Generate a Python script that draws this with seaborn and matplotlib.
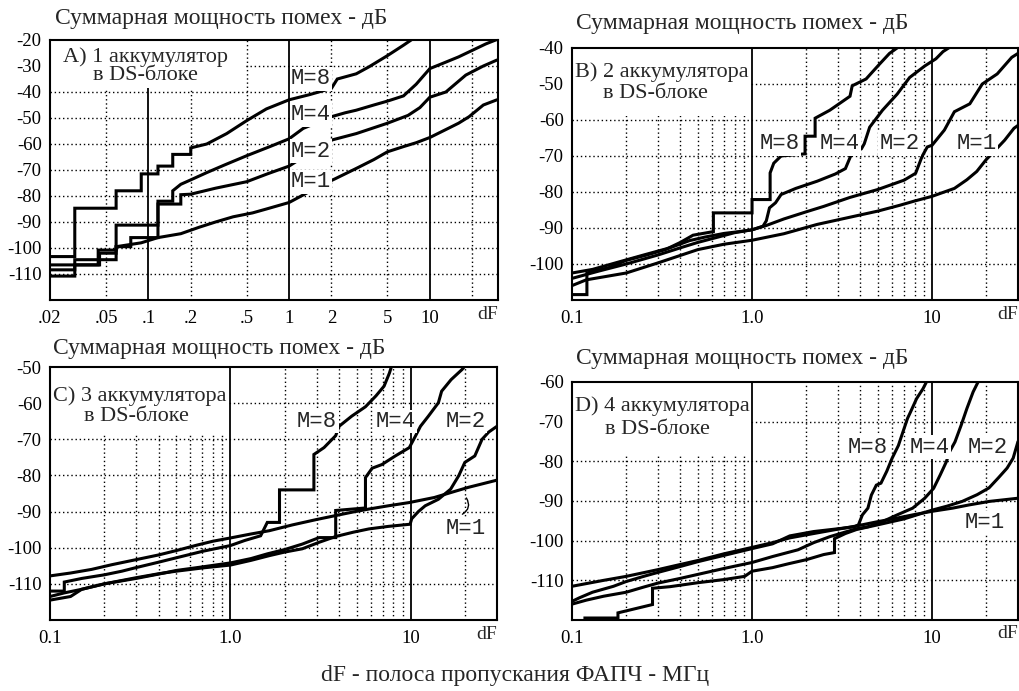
import matplotlib
matplotlib.use("Agg")
import matplotlib.pyplot as plt
import seaborn as sns
import pandas as pd
from matplotlib.patches import Rectangle
from matplotlib.ticker import NullLocator

sns.set_style("white")
plt.rcParams['font.family'] = ['Liberation Serif', 'DejaVu Serif']

# ---------------- data ----------------
# Panel A: 1 accumulator
A_M8_x = [0.02, 0.03, 0.03, 0.059, 0.059, 0.089, 0.089, 0.117, 0.117, 0.149, 0.149, 0.2, 0.2, 0.26, 0.36, 0.5, 0.69, 1.0, 1.4, 2.0, 2.2, 3.0, 3.7, 5.0, 6.5, 7.6]
A_M8_y = [-103.3, -103.3, -84.7, -84.7, -78, -78, -71.5, -71.5, -68.5, -68.5, -64, -64, -61.5, -60, -56, -51, -46.5, -43, -41, -38.6, -35, -33, -30.3, -26, -22, -19.5]
A_M4_x = [0.02, 0.044, 0.044, 0.059, 0.059, 0.117, 0.117, 0.149, 0.149, 0.17, 0.2, 0.26, 0.35, 0.5, 0.73, 1.0, 1.26, 2.0, 2.5, 3.0, 4.0, 5.0, 6.5, 8.0, 10, 13, 16, 20, 25, 31]
A_M4_y = [-106.5, -106.5, -100.8, -100.8, -91.2, -91.2, -82, -82, -78, -75.5, -73.8, -71, -68, -64.5, -61, -58, -54, -49.5, -48, -47, -45, -43.5, -41.5, -37, -31, -28.5, -26.5, -24, -21.5, -19.5]
A_M2_x = [0.02, 0.03, 0.03, 0.059, 0.059, 0.075, 0.075, 0.117, 0.117, 0.17, 0.17, 0.2, 0.3, 0.5, 0.7, 1.0, 1.26, 1.6, 2.0, 3.0, 5.0, 7.0, 8.5, 10, 13, 18, 24, 30]
A_M2_y = [-110.8, -110.8, -104.5, -104.5, -99.5, -99.5, -96, -96, -83.1, -83.1, -79.5, -79.3, -77, -74.5, -71.5, -68.5, -65, -63, -58.5, -56, -52, -49, -46, -42, -40, -33.5, -30, -27.7]
A_M1_x = [0.02, 0.03, 0.03, 0.045, 0.045, 0.059, 0.059, 0.089, 0.117, 0.17, 0.23, 0.3, 0.4, 0.55, 0.69, 1.0, 1.33, 1.6, 2.1, 3.0, 4.0, 5.0, 6.5, 8.0, 10, 13.5, 16, 19, 24, 30]
A_M1_y = [-108.4, -108.4, -106.5, -106.5, -102, -102, -99.5, -98, -96, -94.5, -92, -90, -88, -86.5, -85, -82.5, -78.9, -76.5, -73.5, -69.4, -66, -63, -61, -59.5, -57.5, -54, -52, -49.5, -45, -43]

# Panel B: 2 accumulators
B_M8_x = [0.1, 0.121, 0.121, 0.16, 0.2, 0.26, 0.33, 0.4, 0.47, 0.61, 0.61, 1.0, 1.0, 1.26, 1.26, 1.32, 1.45, 1.97, 1.97, 2.24, 2.24, 2.7, 3.5, 3.6, 4.3, 5.1, 5.8, 6.6]
B_M8_y = [-108.5, -108.5, -102.5, -101, -99, -97.5, -96, -94, -92, -91, -85.8, -85.8, -82.1, -82.1, -74.7, -72, -70, -69.4, -64.5, -64.5, -59.5, -57.3, -53.4, -50.5, -48.6, -44.5, -41.5, -39.5]
B_M4_x = [0.1, 0.13, 0.18, 0.25, 0.35, 0.45, 0.55, 0.7, 0.85, 1.0, 1.15, 1.2, 1.25, 1.35, 1.45, 1.75, 2.3, 2.9, 3.3, 3.6, 4.05, 4.2, 4.5, 5.3, 6.4, 7.5, 9.1, 10.5, 11.5, 12.8]
B_M4_y = [-102.5, -101.5, -99.5, -97.5, -95.5, -93.5, -92.5, -91.5, -91, -90.5, -89.5, -88, -84.4, -83, -80.7, -79, -77, -75, -73.5, -69, -68, -66.6, -62, -57.3, -52.8, -48.2, -45, -43, -41, -39.5]
B_M2_x = [0.1, 0.14, 0.2, 0.3, 0.4, 0.5, 0.65, 0.8, 1.0, 1.2, 1.5, 2.0, 2.5, 3.5, 5.0, 7.0, 8.1, 8.8, 9.4, 10, 11.7, 13.3, 16.2, 19, 23, 27.7, 30]
B_M2_y = [-104, -102, -100, -97.5, -95.5, -94, -92.5, -91.3, -90.5, -89.3, -87.5, -85.5, -84, -81.5, -79.3, -76.7, -74.8, -70.1, -67.5, -67, -62.8, -57.7, -55.5, -50, -47.2, -42.6, -41.5]
B_M1_x = [0.1, 0.12, 0.2, 0.3, 0.5, 0.7, 1.0, 1.5, 2.3, 3.5, 5.0, 6.6, 8.0, 10, 13.3, 15.6, 17.7, 19.9, 22.5, 25.3, 28.5, 30]
B_M1_y = [-106, -104.4, -102.5, -99.7, -96, -94.5, -93.4, -91.6, -89, -87, -85.3, -83.7, -82.5, -81.2, -79, -76.6, -74.3, -71.1, -68.3, -65.6, -62.3, -61.5]

# Panel C: 3 accumulators
C_M8_x = [0.1, 0.12, 0.12, 0.15, 0.2, 0.25, 0.3, 0.4, 0.5, 0.7, 1.0, 1.2, 1.47, 1.6, 1.87, 1.87, 2.9, 2.9, 3.3, 3.83, 4.0, 4.7, 5.6, 6.4, 7.1, 7.6, 7.9]
C_M8_y = [-112, -112, -109.5, -108.5, -107.5, -106.5, -105.5, -104, -102.8, -101, -99.4, -98, -96.7, -93, -93, -84, -84, -74.2, -72.3, -69, -66.4, -63.6, -61, -58, -55.3, -51.7, -49]
C_M4_x = [0.1, 0.13, 0.15, 0.2, 0.3, 0.4, 0.5, 0.7, 1.0, 1.3, 1.6, 2.0, 2.5, 3.1, 3.83, 3.83, 5.6, 5.6, 6.1, 6.9, 8.2, 9.8, 10.6, 11.3, 12.5, 14.2, 14.8, 16.7, 19.2, 20.5]
C_M4_y = [-114.5, -113.5, -111.5, -110, -108.5, -107.3, -106.3, -105.3, -104.2, -103, -101.7, -100.5, -99, -97.2, -97.2, -89.7, -89, -80.6, -78, -77, -74.6, -72.3, -69.1, -66.4, -63.6, -59.9, -56.7, -53.5, -50.7, -49]
C_M2_x = [0.1, 0.12, 0.15, 0.2, 0.3, 0.4, 0.5, 0.7, 1.0, 1.3, 1.64, 2.0, 2.5, 3.1, 3.83, 4.8, 5.85, 7.5, 9.9, 10.1, 11, 12, 14.2, 16.6, 18.4, 19.9, 22.6, 24.8, 27, 30]
C_M2_y = [-113.5, -112.5, -111.5, -110, -108.3, -107.2, -106.5, -105.6, -104.8, -103.5, -102.2, -101.2, -100.3, -98.5, -96.9, -95.7, -94.8, -94.1, -93.5, -92, -90, -88.4, -86.6, -83.8, -80.1, -76.4, -74.6, -70, -68, -66.4]
C_M1_x = [0.1, 0.13, 0.17, 0.22, 0.3, 0.4, 0.5, 0.65, 0.8, 1.0, 1.3, 1.64, 2.2, 3.0, 3.83, 4.8, 5.85, 7.5, 9.8, 13.5, 17, 20.8, 25, 30]
C_M1_y = [-107.8, -107, -106, -104.7, -103.3, -102, -100.8, -99.3, -98.2, -97.3, -96.2, -95.3, -93.7, -92.2, -91.1, -90.1, -89.3, -88.4, -87.5, -86.1, -84.6, -83.3, -82.3, -81.3]

# Panel D: 4 accumulators
D_M8_x = [0.1, 0.11, 0.13, 0.17, 0.2, 0.25, 0.3, 0.4, 0.5, 0.7, 1.0, 1.3, 1.62, 2.2, 3.0, 3.7, 3.9, 4.1, 4.4, 4.6, 4.9, 5.2, 5.6, 6.0, 6.5, 6.7, 7.3, 7.6, 8.2, 8.9, 9.3, 9.5]
D_M8_y = [-115.3, -114.4, -113, -111.5, -110.3, -109, -108, -106.5, -105.3, -103.7, -102, -100.8, -98.8, -97.7, -97, -96.5, -96, -93.5, -91.8, -88.5, -86, -85.5, -82.5, -79.2, -76, -74.2, -69.2, -67.5, -64.2, -61.7, -60, -59]
D_M4_x = [0.1, 0.12, 0.15, 0.2, 0.25, 0.3, 0.4, 0.5, 0.7, 1.0, 1.3, 1.8, 2.2, 2.7, 3.2, 3.8, 4.4, 5.3, 6.4, 7.8, 9.1, 10.2, 11.1, 12, 12.5, 13.4, 14.5, 15.6, 16.9, 18, 18.5]
D_M4_y = [-116, -115, -114, -113, -111.7, -110.7, -109.5, -108.5, -107, -105.5, -104, -102.3, -100.5, -99, -98, -97, -96.5, -95.2, -93.5, -91.8, -89.3, -86.8, -83.4, -80.1, -77.6, -75.1, -70.9, -66.7, -62.5, -60, -59]
D_M2_x = [0.1, 0.118, 0.118, 0.18, 0.18, 0.28, 0.28, 0.35, 0.5, 0.7, 0.91, 1.0, 1.3, 1.6, 2.0, 2.5, 2.87, 2.87, 3.3, 3.8, 5.0, 7.0, 10, 12.1, 14.7, 17.8, 20.7, 23.3, 26.1, 28.2, 30]
D_M2_y = [-121, -121, -119.5, -119.5, -118.2, -116.1, -112, -111.6, -110.6, -109.8, -109, -107.7, -106.8, -105.8, -104.8, -103.5, -103, -99.5, -98.2, -97.2, -96, -94.5, -92.3, -91.3, -90.1, -88.4, -86.7, -84.2, -81.7, -79.2, -75]
D_M1_x = [0.1, 0.15, 0.2, 0.3, 0.4, 0.5, 0.7, 1.0, 1.3, 1.62, 2.2, 3.0, 3.8, 5.0, 6.4, 8.0, 10, 13, 16, 20.8, 25, 30]
D_M1_y = [-111.5, -110, -109, -107.3, -106, -105, -103.3, -101.7, -100.5, -99.3, -98.2, -97.1, -96.3, -95.2, -94.3, -93.4, -92.6, -91.8, -91, -90.1, -89.7, -89.3]

M_labels = ["M=8", "M=4", "M=2", "M=1"]
title_text = "Суммарная мощность помех - дБ"
xlabel_text = "dF - полоса пропускания ФАПЧ - МГц"
A_ticks = [0.02, 0.05, 0.1, 0.2, 0.5, 1, 2, 5, 10]
A_ticklabels = [".02", ".05", ".1", ".2", ".5", "1", "2", "5", "10"]
BCD_ticks = [0.1, 1.0, 10]
BCD_ticklabels = ["0.1", "1.0", "10"]
panel_texts = {
    "A": ("A) 1 аккумулятор", "в DS-блоке"),
    "B": ("B) 2 аккумулятора", "в DS-блоке"),
    "C": ("C) 3 аккумулятора", "в DS-блоке"),
    "D": ("D) 4 аккумулятора", "в DS-блоке"),
}

curves = {
    "A": [(A_M8_x, A_M8_y), (A_M4_x, A_M4_y), (A_M2_x, A_M2_y), (A_M1_x, A_M1_y)],
    "B": [(B_M8_x, B_M8_y), (B_M4_x, B_M4_y), (B_M2_x, B_M2_y), (B_M1_x, B_M1_y)],
    "C": [(C_M8_x, C_M8_y), (C_M4_x, C_M4_y), (C_M2_x, C_M2_y), (C_M1_x, C_M1_y)],
    "D": [(D_M8_x, D_M8_y), (D_M4_x, D_M4_y), (D_M2_x, D_M2_y), (D_M1_x, D_M1_y)],
}

# ---------------- layout ----------------
W, H = 1020, 691
fig = plt.figure(figsize=(W / 100, H / 100), dpi=100)
fig.patch.set_facecolor("white")

def add_ax(l, t, r, b):
    return fig.add_axes([l / W, 1 - b / H, (r - l) / W, (b - t) / H])

minor_bcd = [0.2, 0.3, 0.4, 0.5, 0.6, 0.7, 0.8, 0.9, 2, 3, 4, 5, 6, 7, 8, 9, 20]
cfg = {
    "A": dict(box=(50, 40, 498, 300), xlim=(0.02, 30.5), ylim=(-120, -20),
              ticks=A_ticks, tlabels=A_ticklabels, major=[0.1, 1, 10],
              minor=[0.05, 0.2, 0.5, 2, 5, 20],
              wbox=(0.0195, 0.485, -38.5, -19), t1=(0.096, -26.7), t2=(0.095, -33.7),
              lab=[(1.03, -35.0), (1.03, -48.8), (1.03, -62.7), (1.03, -74.6)],
              title=(55, 18.5)),
    "B": dict(box=(572, 48, 1018, 300), xlim=(0.1, 30), ylim=(-110, -40),
              ticks=BCD_ticks, tlabels=BCD_ticklabels, major=[1, 10], minor=minor_bcd,
              wbox=(0.098, 0.985, -59, -39), t1=(0.317, -46.7), t2=(0.29, -52.6),
              lab=[(1.1, -66.6), (2.38, -66.6), (5.1, -66.6), (13.7, -66.6)],
              title=(576, 24)),
    "C": dict(box=(50, 367, 497, 620), xlim=(0.1, 30), ylim=(-120, -50),
              ticks=BCD_ticks, tlabels=BCD_ticklabels, major=[1, 10], minor=minor_bcd,
              wbox=(0.098, 0.985, -68.5, -49), t1=(0.314, -58.0), t2=(0.30, -63.8),
              lab=[(2.34, -65.1), (6.4, -65.1), (15.6, -65.1), (15.6, -94.7)],
              title=(53, 348.5)),
    "D": dict(box=(572, 382, 1018, 620), xlim=(0.1, 30), ylim=(-120, -60),
              ticks=BCD_ticks, tlabels=BCD_ticklabels, major=[1, 10], minor=minor_bcd,
              wbox=(0.098, 0.985, -78.5, -59), t1=(0.317, -66.2), t2=(0.30, -72.1),
              lab=[(3.4, -76.4), (7.5, -76.4), (15.8, -76.4), (15.2, -95.4)],
              title=(576, 358.5)),
}

dot = (0, (1, 2))
for key in ["A", "B", "C", "D"]:
    c = cfg[key]
    ax = add_ax(*c["box"])
    ax.set_xscale("log")
    ax.set_facecolor("white")
    y0, y1 = c["ylim"]
    for v in c["minor"]:
        ax.axvline(v, color="black", lw=1.0, ls=dot, zorder=1)
    for h in range(y0 + 10, y1, 10):
        ax.axhline(h, color="black", lw=1.0, ls=dot, zorder=1)
    bx0, bx1, by0, by1 = c["wbox"]
    ax.add_patch(Rectangle((bx0, by0), bx1 - bx0, by1 - by0, facecolor="white",
                           edgecolor="none", zorder=1.5))
    for v in c["major"]:
        ax.axvline(v, color="black", lw=1.3, zorder=1.2 if (key == "A" and v == 0.1) else 1.8)

    frames = []
    for lab, (xs, ys) in zip(M_labels, curves[key]):
        frames.append(pd.DataFrame({"dF": xs, "P": ys, "M": lab}))
    df = pd.concat(frames, ignore_index=True)
    sns.lineplot(data=df, x="dF", y="P", hue="M", units="M", estimator=None, sort=False,
                 palette={m: "black" for m in M_labels}, lw=2.2, legend=False, ax=ax,
                 zorder=3, solid_joinstyle="miter")

    ax.set_xlim(*c["xlim"])
    ax.set_ylim(y0, y1)
    ax.set_xlabel("")
    ax.set_ylabel("")
    ax.set_xticks(c["ticks"])
    ax.set_xticklabels(c["tlabels"])
    ax.xaxis.set_minor_locator(NullLocator())
    yt = list(range(y1, y0, -10))
    ax.set_yticks(yt)
    ax.set_yticklabels([str(v) for v in yt])
    ax.tick_params(axis="both", direction="out", length=4, width=1, labelsize=13.5,
                   colors="black", pad=2)
    ax.tick_params(axis="x", pad=3)
    for s in ax.spines.values():
        s.set_color("black")
        s.set_linewidth(1.5)
        s.set_zorder(4)
    ax.text(1.0, -0.022, "dF", transform=ax.transAxes, ha="right", va="top", fontsize=14)

    t1, t2 = panel_texts[key]
    ax.text(*c["t1"], t1, ha="center", va="center", fontsize=16, zorder=5)
    ax.text(*c["t2"], t2, ha="center", va="center", fontsize=16, zorder=5)

    for lab, (lx, ly) in zip(M_labels, c["lab"]):
        ax.text(lx, ly, lab, ha="left", va="center", fontsize=16, family="Liberation Mono",
                zorder=6, bbox=dict(facecolor="white", edgecolor="none", pad=1.0))

    if key == "C":
        ax.annotate("", xy=(19.9, -85.6), xytext=(18.7, -91.1),
                    arrowprops=dict(arrowstyle="-", connectionstyle="arc3,rad=0.6",
                                    lw=1.0, color="black"), zorder=6)

    tx, ty = c["title"]
    fig.text(tx / W, 1 - ty / H, title_text, ha="left", va="center", fontsize=17)

fig.text(515 / W, 1 - 675 / H, xlabel_text, ha="center", va="center", fontsize=17)

fig.savefig("out.png", dpi=100, facecolor="white")
